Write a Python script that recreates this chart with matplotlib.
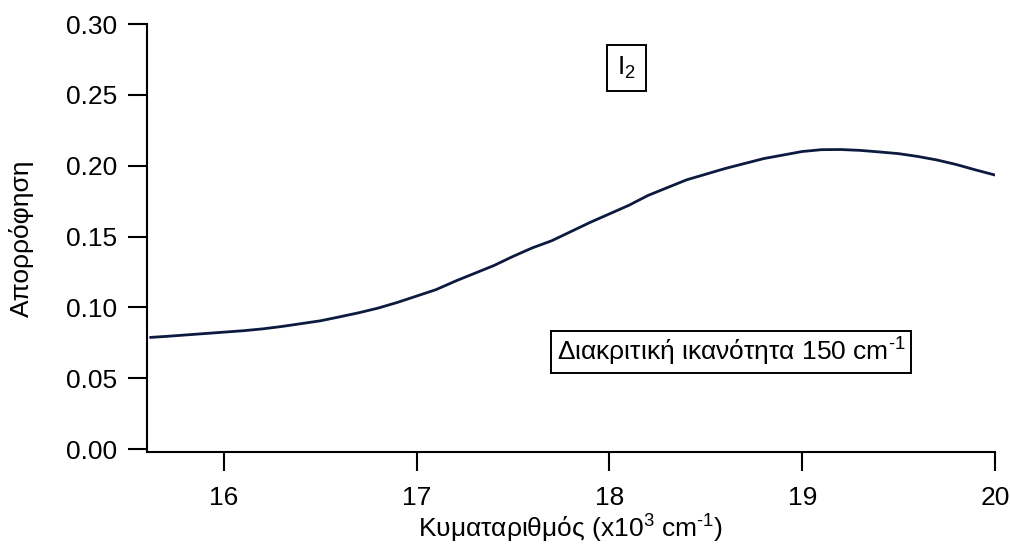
import matplotlib.pyplot as plt

plt.rcParams['font.family'] = ['Liberation Sans', 'DejaVu Sans']
plt.rcParams['mathtext.fontset'] = 'custom'
plt.rcParams['mathtext.rm'] = 'Liberation Sans'
plt.rcParams['mathtext.it'] = 'Liberation Sans'

# I2 absorption spectrum, wavenumber in 10^3 cm^-1
wavenumber = [15.62, 15.7, 15.8, 15.9, 16.0, 16.1, 16.2, 16.3, 16.4, 16.5,
              16.6, 16.7, 16.8, 16.9, 17.0, 17.1, 17.2, 17.3, 17.4, 17.5,
              17.6, 17.7, 17.8, 17.9, 18.0, 18.1, 18.2, 18.3, 18.4, 18.5,
              18.6, 18.7, 18.8, 18.9, 19.0, 19.1, 19.2, 19.3, 19.4, 19.5,
              19.6, 19.7, 19.8, 19.9, 20.0]
absorbance = [0.0788, 0.0795, 0.0805, 0.0815, 0.0825, 0.0835, 0.0848, 0.0865, 0.0885, 0.0905,
              0.0933, 0.0962, 0.0995, 0.1035, 0.1080, 0.1125, 0.1185, 0.1240, 0.1295, 0.1360,
              0.1420, 0.1470, 0.1535, 0.1600, 0.1660, 0.1720, 0.1790, 0.1845, 0.1900, 0.1940,
              0.1980, 0.2015, 0.2050, 0.2075, 0.2100, 0.2113, 0.2114, 0.2108, 0.2097, 0.2085,
              0.2065, 0.2040, 0.2008, 0.1970, 0.1934]

xticks = [16, 17, 18, 19, 20]
yticks = [0.00, 0.05, 0.10, 0.15, 0.20, 0.25, 0.30]

fig = plt.figure(figsize=(10.1, 5.47), dpi=100)
ax = fig.add_axes([0.1455, 0.1737, 0.8396, 0.7824])

ax.plot(wavenumber, absorbance, color='#0d1a3f', linewidth=2.0)

ax.set_xlim(15.6, 20.0)
ax.set_ylim(-0.0021, 0.30)
ax.set_xticks(xticks)
ax.set_xticklabels([str(t) for t in xticks])
ax.set_yticks(yticks)
ax.set_yticklabels(['%.2f' % t for t in yticks])

for side in ['top', 'right']:
    ax.spines[side].set_visible(False)
for side in ['left', 'bottom']:
    ax.spines[side].set_linewidth(1.5)
ax.tick_params(axis='both', direction='out', length=13.5, width=1.5, labelsize=19)
ax.tick_params(axis='x', pad=11)
ax.tick_params(axis='y', pad=8)

ax.set_xlabel(r'Κυματαριθμός (x10$^{3}$ cm$^{\text{-1}}$)', fontsize=19, labelpad=2)
ax.set_ylabel('Απορρόφηση', fontsize=19, labelpad=23)

box = dict(boxstyle='square,pad=0.38', facecolor='white', edgecolor='black', linewidth=1.4)
ax.text(18.086, 0.269, r'I$_{2}$', fontsize=19, ha='center', va='center', bbox=box)
ax.text(18.63, 0.0685, r'Διακριτική ικανότητα 150 cm$^{\text{-1}}$', fontsize=19,
        ha='center', va='center', bbox=dict(box, boxstyle='square,pad=0.2'))

fig.savefig('out.png', dpi=100)
